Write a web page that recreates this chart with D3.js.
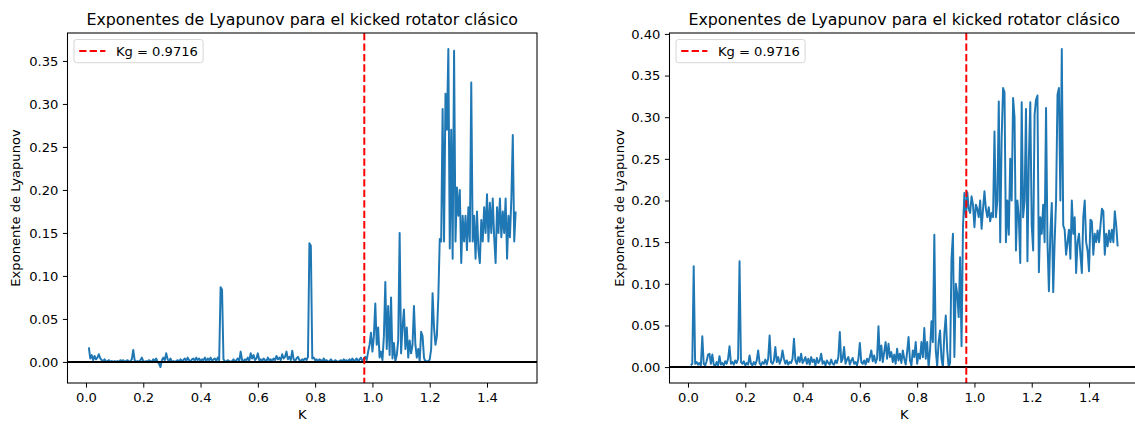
<!DOCTYPE html>
<html>
<head>
<meta charset="utf-8">
<script src="https://cdn.jsdelivr.net/npm/d3@7"></script>
<style>
  html, body { margin: 0; padding: 0; background: #ffffff; }
  svg { display: block; font-family: "DejaVu Sans", sans-serif; }
</style>
</head>
<body>
<svg id="chart" width="1135" height="426"></svg>
<script>
// ---------------- DATA ----------------
const titleText = "Exponentes de Lyapunov para el kicked rotator clásico";
const xLabelText = "K";
const yLabelText = "Exponente de Lyapunov";
const legendText = "Kg = 0.9716";
const kCritical = 0.9716;

// K grid (linspace-like): 0.010 ... 1.500, step 0.005
const kStart = 0.01, kStep = 0.005, kCount = 299;
const kValues = d3.range(kCount).map(i => +(kStart + i * kStep).toFixed(3));

const xTickValues = [0.0, 0.2, 0.4, 0.6, 0.8, 1.0, 1.2, 1.4];
const leftYTicks  = [0.00, 0.05, 0.10, 0.15, 0.20, 0.25, 0.30, 0.35];
const rightYTicks = [0.00, 0.05, 0.10, 0.15, 0.20, 0.25, 0.30, 0.35, 0.40];

// Left panel series
const lyapLeft = [
  0.017,0.004,0.008,0.002,0.007,0.003,0.005,0.009,0.004,0.002,0.001,0.003,0.000,0.001,0.002,0.000,0.001,0.000,0.001,0.000,
  0.001,0.000,0.002,0.001,0.002,0.000,0.001,0.002,0.000,0.001,0.003,0.014,0.002,0.000,0.001,0.000,0.002,0.005,0.001,0.000,
  0.001,0.000,0.002,0.001,0.000,0.003,0.001,0.004,0.000,-0.002,-0.006,0.002,0.005,0.002,0.010,0.003,0.001,0.004,0.000,0.001,
  0.000,0.001,0.002,0.000,0.003,0.001,0.002,0.004,0.001,0.005,0.002,0.000,0.003,0.004,0.001,0.005,0.002,0.004,0.001,0.003,
  0.002,0.005,0.001,0.004,0.002,0.005,0.001,0.003,0.004,0.001,0.005,0.002,0.087,0.084,0.003,0.001,0.000,0.002,0.001,0.000,
  0.001,0.003,0.000,0.002,0.004,0.001,0.012,0.002,0.001,0.003,0.002,0.005,0.001,0.010,0.004,0.008,0.002,0.004,0.010,0.002,
  0.003,0.001,0.004,0.002,0.001,0.005,0.002,0.003,0.001,0.004,0.002,0.007,0.003,0.005,0.002,0.009,0.004,0.006,0.012,0.003,
  0.006,0.002,0.013,0.003,0.001,0.004,0.006,0.002,0.001,0.003,0.002,0.004,0.002,0.006,0.138,0.135,0.004,0.005,0.002,0.003,
  0.001,0.003,0.002,0.000,0.004,0.001,0.002,0.000,0.001,0.003,0.001,0.000,0.002,0.001,0.000,0.001,0.002,0.000,0.003,0.001,
  0.002,0.000,0.003,0.001,0.004,0.001,0.002,0.004,0.000,0.003,0.005,0.001,0.003,0.006,0.002,0.012,0.020,0.034,0.012,0.030,
  0.068,0.020,0.040,0.005,0.012,0.002,0.030,0.093,0.015,0.065,0.008,0.075,0.004,0.022,0.001,0.008,0.025,0.150,0.010,0.040,
  0.061,0.015,0.040,0.005,0.025,0.010,0.020,0.065,0.020,0.005,0.015,0.001,0.035,0.030,0.005,0.000,0.001,0.000,0.003,0.015,
  0.080,0.040,0.020,0.030,0.075,0.143,0.140,0.294,0.140,0.312,0.270,0.364,0.132,0.270,0.120,0.362,0.140,0.203,0.170,0.200,
  0.115,0.170,0.140,0.170,0.130,0.180,0.140,0.325,0.140,0.170,0.120,0.175,0.130,0.115,0.165,0.140,0.180,0.150,0.195,0.140,
  0.185,0.150,0.190,0.145,0.115,0.180,0.150,0.190,0.145,0.175,0.150,0.190,0.120,0.170,0.145,0.190,0.264,0.140,0.175
];

// Right panel series
const lyapRight = [
  0.002,0.004,0.121,0.004,0.006,0.003,0.005,0.002,0.037,0.004,0.002,0.007,0.015,0.016,0.004,0.015,0.003,0.001,0.006,0.002,
  0.013,0.003,0.005,0.002,0.007,0.004,0.010,0.025,0.004,0.006,0.003,0.008,0.005,0.010,0.127,0.006,0.004,0.007,0.002,0.005,
  0.003,0.014,0.004,0.002,0.006,0.003,0.008,0.020,0.005,0.002,0.006,0.004,0.009,0.003,0.010,0.038,0.006,0.004,0.008,0.024,
  0.006,0.012,0.004,0.009,0.020,0.010,0.004,0.008,0.003,0.006,0.005,0.010,0.034,0.008,0.004,0.012,0.006,0.016,0.005,0.008,
  0.012,0.004,0.010,0.003,0.012,0.006,0.009,0.002,0.011,0.005,0.008,0.016,0.004,0.007,0.002,0.008,0.005,0.003,0.009,0.004,
  0.003,0.008,0.005,0.012,0.042,0.006,0.010,0.024,0.004,0.009,0.012,0.003,0.008,0.011,0.004,0.006,0.002,0.010,0.029,0.006,
  0.004,0.008,0.003,0.010,0.006,0.012,0.020,0.007,0.014,0.005,0.010,0.049,0.008,0.026,0.006,0.018,0.030,0.010,0.028,0.012,
  0.018,0.006,0.015,0.004,0.022,0.008,0.016,0.005,0.020,0.010,0.003,0.018,0.036,0.008,0.002,0.020,0.012,0.030,0.004,0.016,
  0.010,0.030,0.012,0.047,0.010,0.030,0.000,0.020,0.055,0.030,0.159,0.020,0.001,0.030,0.044,0.010,0.000,0.040,0.062,0.020,
  0.000,0.005,0.130,0.160,0.012,0.100,0.088,0.060,0.132,0.025,0.168,0.209,0.180,0.210,0.190,0.185,0.205,0.195,0.168,0.195,
  0.190,0.180,0.200,0.166,0.190,0.211,0.190,0.180,0.192,0.175,0.185,0.180,0.283,0.180,0.200,0.319,0.150,0.275,0.335,0.330,
  0.150,0.200,0.159,0.250,0.200,0.323,0.300,0.140,0.200,0.180,0.125,0.318,0.180,0.200,0.310,0.127,0.250,0.318,0.170,0.140,
  0.303,0.321,0.326,0.114,0.180,0.160,0.195,0.150,0.311,0.150,0.091,0.160,0.197,0.090,0.150,0.200,0.327,0.335,0.200,0.382,
  0.170,0.165,0.135,0.150,0.165,0.130,0.200,0.160,0.180,0.113,0.150,0.160,0.135,0.113,0.180,0.200,0.150,0.140,0.115,0.177,
  0.175,0.135,0.160,0.150,0.164,0.150,0.170,0.190,0.187,0.135,0.160,0.145,0.164,0.150,0.165,0.150,0.187,0.170,0.145
];

// ---------------- DRAWING ----------------
const svg = d3.select("#chart");
const FS_TICK = 13.1, FS_TITLE = 15.8, FS_LABEL = 13.1, FS_LEG = 13.1;
const LW = 1.97;
const DASH = "7.3,3.15";
const TICK = 4.6, PAD = 4.6;
const axTop = 33, axBottom = 383;

function drawPanel(id, x0, x1, values, yTicks, yLabelX) {
  const xExt = d3.extent(kValues), yExt = d3.extent(values);
  const xr = xExt[1] - xExt[0], yr = yExt[1] - yExt[0];
  const x = d3.scaleLinear().domain([xExt[0] - 0.05 * xr, xExt[1] + 0.05 * xr]).range([x0, x1]);
  const y = d3.scaleLinear().domain([yExt[0] - 0.05 * yr, yExt[1] + 0.05 * yr]).range([axBottom, axTop]);

  const g = svg.append("g");
  const clipId = "clip-" + id;
  svg.append("clipPath").attr("id", clipId).append("rect")
    .attr("x", x0).attr("y", axTop).attr("width", x1 - x0).attr("height", axBottom - axTop);

  const data = kValues.map((k, i) => [k, values[i]]);
  const line = d3.line().x(d => x(d[0])).y(d => y(d[1]));

  const plot = g.append("g").attr("clip-path", `url(#${clipId})`);
  plot.append("path").datum(data)
    .attr("d", line)
    .attr("fill", "none")
    .attr("stroke", "#1f77b4")
    .attr("stroke-width", LW)
    .attr("stroke-linejoin", "round");

  // horizontal line at 0
  plot.append("line")
    .attr("x1", x0).attr("x2", x1)
    .attr("y1", y(0)).attr("y2", y(0))
    .attr("stroke", "#000000").attr("stroke-width", LW);

  // vertical critical line
  plot.append("line")
    .attr("x1", x(kCritical)).attr("x2", x(kCritical))
    .attr("y1", axTop).attr("y2", axBottom)
    .attr("stroke", "#ff0000").attr("stroke-width", LW)
    .attr("stroke-dasharray", DASH);

  // axes
  const xAxis = d3.axisBottom(x).tickValues(xTickValues).tickFormat(d3.format(".1f"))
    .tickSize(TICK).tickPadding(PAD).tickSizeOuter(0);
  const yAxis = d3.axisLeft(y).tickValues(yTicks).tickFormat(d3.format(".2f"))
    .tickSize(TICK).tickPadding(PAD).tickSizeOuter(0);

  const gx = g.append("g").attr("transform", `translate(0,${axBottom})`).call(xAxis);
  const gy = g.append("g").attr("transform", `translate(${x0},0)`).call(yAxis);
  [gx, gy].forEach(a => {
    a.select(".domain").remove();
    a.selectAll(".tick line").attr("stroke", "#000").attr("stroke-width", 1.0);
    a.selectAll(".tick text").attr("fill", "#000")
      .style("font-family", "'DejaVu Sans', sans-serif").style("font-size", FS_TICK + "px");
  });

  // spines
  g.append("rect")
    .attr("x", x0).attr("y", axTop).attr("width", x1 - x0).attr("height", axBottom - axTop)
    .attr("fill", "none").attr("stroke", "#000").attr("stroke-width", 1.05);

  // title
  g.append("text")
    .attr("x", (x0 + x1) / 2).attr("y", axTop - 7.9)
    .attr("text-anchor", "middle")
    .style("font-size", FS_TITLE + "px").attr("fill", "#000")
    .text(titleText);

  // x label
  g.append("text")
    .attr("x", (x0 + x1) / 2).attr("y", 419)
    .attr("text-anchor", "middle")
    .style("font-size", FS_LABEL + "px").attr("fill", "#000")
    .text(xLabelText);

  // y label
  g.append("text")
    .attr("transform", `translate(${yLabelX},${(axTop + axBottom) / 2}) rotate(-90)`)
    .attr("text-anchor", "middle").attr("dy", "0.35em")
    .style("font-size", FS_LABEL + "px").attr("fill", "#000")
    .text(yLabelText);

  // legend
  const lx = x0 + 6.5, ly = axTop + 6.5;
  const leg = g.append("g");
  const legTxt = leg.append("text")
    .attr("x", lx + 5.2 + 26.2 + 10.5).attr("y", ly + 11.6).attr("dy", "0.35em")
    .style("font-size", FS_LEG + "px").attr("fill", "#000")
    .text(legendText);
  const tw = legTxt.node().getComputedTextLength();
  leg.insert("rect", "text")
    .attr("x", lx).attr("y", ly)
    .attr("width", 5.2 + 26.2 + 10.5 + tw + 5.2).attr("height", 23.2)
    .attr("rx", 2.6).attr("ry", 2.6)
    .attr("fill", "rgba(255,255,255,0.8)")
    .attr("stroke", "#d6d6d6").attr("stroke-width", 1);
  leg.insert("line", "text")
    .attr("x1", lx + 5.2).attr("x2", lx + 5.2 + 26.2)
    .attr("y1", ly + 11.6).attr("y2", ly + 11.6)
    .attr("stroke", "#ff0000").attr("stroke-width", LW)
    .attr("stroke-dasharray", DASH);
}

drawPanel("left", 67.5, 537, lyapLeft, leftYTicks, 15);
drawPanel("right", 669.5, 1139, lyapRight, rightYTicks, 619.5);
</script>
</body>
</html>
